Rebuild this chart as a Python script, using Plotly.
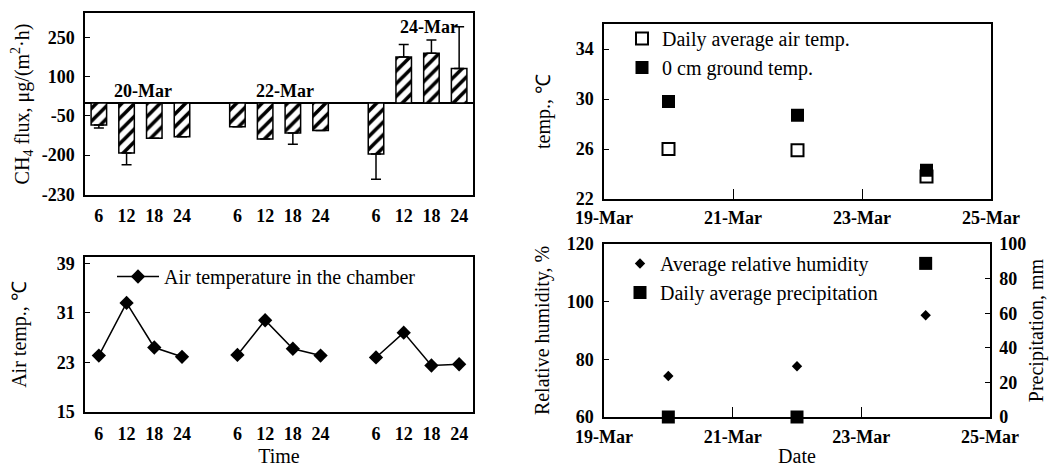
import plotly.graph_objects as go

# ---------------- data ----------------
hours = ["6", "12", "18", "24"]
days = ["20-Mar", "22-Mar", "24-Mar"]

flux_20 = [-85, -192, -135, -130]
flux_22 = [-91, -138, -115, -106]
flux_24 = [-196, 176, 191, 132]
err_20 = [11, 45, 0, 0]
err_22 = [0, 0, 43, 0]
err_24 = [97, 48, 50, 160]

flux_tickvals = [-350, -200, -50, 100, 250]
flux_ticktext = ["-230", "-200", "-50", "100", "250"]

air_20 = [24.1, 32.6, 25.4, 23.9]
air_22 = [24.2, 29.8, 25.2, 24.1]
air_24 = [23.8, 27.8, 22.5, 22.7]
air_ticks = [15, 23, 31, 39]

dates = ["2004-03-20", "2004-03-22", "2004-03-24"]
date_ticks = ["2004-03-19", "2004-03-21", "2004-03-23", "2004-03-25"]
daily_air_temp = [26.0, 25.9, 23.8]
ground_temp_0cm = [29.8, 28.7, 24.3]
temp_ticks = [22, 26, 30, 34]

rel_humidity = [74.2, 77.6, 95.3]
precipitation = [0, 0, 88.8]

# ---------------- figure ----------------
FONT = "Liberation Serif"
W, H = 1049, 467


def px_x(a, b):
    return [a / W, b / W]


def px_y(top, bottom):
    return [1 - bottom / H, 1 - top / H]


flux_all = flux_20 + flux_22 + flux_24
err_all = err_20 + err_22 + err_24
air_groups = [air_20, air_22, air_24]
positions = [g * 5 + i for g in range(3) for i in range(4)]

fig = go.Figure()

# Panel 1: CH4 flux bars
fig.add_trace(go.Bar(
    x=positions, y=flux_all, width=0.56,
    marker=dict(color="white", line=dict(color="black", width=1.5),
                pattern=dict(shape="/", fgcolor="black", bgcolor="white",
                             size=9, solidity=0.4)),
    error_y=dict(type="data", symmetric=False,
                 array=[e if v > 0 else 0 for v, e in zip(flux_all, err_all)],
                 arrayminus=[e if v < 0 else 0 for v, e in zip(flux_all, err_all)],
                 color="black", thickness=1.5, width=5),
    showlegend=False, xaxis="x", yaxis="y"))

# Panel 2: air temperature in the chamber
for g, vals in enumerate(air_groups):
    fig.add_trace(go.Scatter(
        x=positions[g * 4:(g + 1) * 4], y=vals, mode="lines+markers",
        name="Air temperature in the chamber", legendgroup="air",
        showlegend=(g == 0), legend="legend",
        line=dict(color="black", width=1.5),
        marker=dict(symbol="diamond", size=11, color="black"),
        xaxis="x2", yaxis="y2"))

# Panel 3: temperatures
fig.add_trace(go.Scatter(
    x=dates, y=daily_air_temp, mode="markers", name="Daily average air temp.",
    marker=dict(symbol="square", size=12, color="white",
                line=dict(color="black", width=2)),
    legend="legend2", xaxis="x3", yaxis="y3", cliponaxis=False))
fig.add_trace(go.Scatter(
    x=dates, y=ground_temp_0cm, mode="markers", name="0 cm ground temp.",
    marker=dict(symbol="square", size=13, color="black"),
    legend="legend2", xaxis="x3", yaxis="y3", cliponaxis=False))

# Panel 4: humidity & precipitation
fig.add_trace(go.Scatter(
    x=dates, y=rel_humidity, mode="markers", name="Average relative humidity",
    marker=dict(symbol="diamond", size=8, color="black"),
    legend="legend3", xaxis="x4", yaxis="y4", cliponaxis=False))
fig.add_trace(go.Scatter(
    x=dates, y=precipitation, mode="markers", name="Daily average precipitation",
    marker=dict(symbol="square", size=13, color="black"),
    legend="legend3", xaxis="x4", yaxis="y5", cliponaxis=False))

tickfont = dict(family=FONT, size=18, color="black", weight="bold")
titlefont = dict(family=FONT, size=20, color="black")
legfont = dict(family=FONT, size=20, color="black")
box = dict(showline=True, linecolor="black", linewidth=1.5, mirror=True,
           showgrid=False, zeroline=False, tickfont=tickfont,
           tickcolor="black", automargin=False)

fig.update_layout(
    template="none",
    width=W, height=H, autosize=False,
    margin=dict(l=0, r=0, t=0, b=0, pad=0),
    paper_bgcolor="white", plot_bgcolor="white",
    font=dict(family=FONT, color="black"),
    xaxis=dict(domain=px_x(85, 473), anchor="y", range=[-0.5, 13.5],
               tickmode="array", tickvals=positions, ticktext=hours * 3,
               ticks="", ticklabelstandoff=4, **box),
    yaxis=dict(domain=px_y(13, 195), anchor="x", range=[-353, 345],
               tickmode="array", tickvals=flux_tickvals, ticktext=flux_ticktext,
               ticks="inside", ticklen=5, ticklabelstandoff=5,
               title=dict(text="CH<sub>4</sub> flux, μg/(m<sup>2</sup>·h)",
                          font=titlefont, standoff=7),
               **{**box, "zeroline": True}, zerolinecolor="black",
               zerolinewidth=1.5),
    xaxis2=dict(domain=px_x(85, 473), anchor="y2", range=[-0.5, 13.5],
                tickmode="array", tickvals=positions, ticktext=hours * 3,
                ticks="", ticklabelstandoff=5,
                title=dict(text="Time", font=titlefont, standoff=12), **box),
    yaxis2=dict(domain=px_y(257, 412), anchor="x2", range=[15, 40],
                tickmode="array", tickvals=air_ticks, ticks="inside", ticklen=5,
                ticklabelstandoff=5,
                title=dict(text="Air temp., ℃", font=titlefont, standoff=25),
                **box),
    xaxis3=dict(domain=px_x(604, 991), anchor="y3", type="date",
                range=[date_ticks[0], date_ticks[-1]],
                tickmode="array", tickvals=date_ticks, tickformat="%d-%b",
                ticks="inside", ticklen=10, ticklabelstandoff=2, **box),
    yaxis3=dict(domain=px_y(24, 199), anchor="x3", range=[22, 36],
                tickmode="array", tickvals=temp_ticks, ticks="inside", ticklen=5,
                ticklabelstandoff=5,
                title=dict(text="temp., ℃", font=titlefont, standoff=20),
                **box),
    xaxis4=dict(domain=px_x(604, 990), anchor="y4", type="date",
                range=[date_ticks[0], date_ticks[-1]],
                tickmode="array", tickvals=date_ticks, tickformat="%d-%b",
                ticks="inside", ticklen=10, ticklabelstandoff=3,
                title=dict(text="Date", font=titlefont, standoff=9), **box),
    yaxis4=dict(domain=px_y(244, 417), anchor="x4", range=[60, 120],
                tickmode="linear", tick0=60, dtick=20, ticks="inside", ticklen=5,
                ticklabelstandoff=5,
                title=dict(text="Relative humidity, %", font=titlefont, standoff=12),
                **box),
    yaxis5=dict(overlaying="y4", anchor="x4", side="right", range=[0, 100],
                tickmode="linear", tick0=0, dtick=20, ticks="inside", ticklen=5,
                ticklabelstandoff=4,
                title=dict(text="Precipitation, mm", font=titlefont, standoff=4),
                showline=True, linecolor="black", linewidth=1.5,
                showgrid=False, zeroline=False, tickfont=tickfont,
                tickcolor="black", automargin=False),
    legend=dict(x=112 / W, y=1 - 257 / H, xanchor="left", yanchor="top",
                bgcolor="rgba(0,0,0,0)", itemwidth=42, font=legfont),
    legend2=dict(x=622 / W, y=1 - 19 / H, xanchor="left", yanchor="top",
                 bgcolor="rgba(0,0,0,0)", font=legfont),
    legend3=dict(x=620 / W, y=1 - 244 / H, xanchor="left", yanchor="top",
                 bgcolor="rgba(0,0,0,0)", font=legfont),
)

# day labels above the bar groups
day_label_pos = [(1.6, 44), (6.7, 44), (11.9, 293)]
for d, (xp, yp) in zip(days, day_label_pos):
    fig.add_annotation(x=xp, y=yp, xref="x", yref="y", text=d, showarrow=False,
                       font=dict(family=FONT, size=18, color="black",
                                 weight="bold"))

fig.write_html("out.html", config={"displayModeBar": False},
               post_script="document.body.style.margin='0';")
